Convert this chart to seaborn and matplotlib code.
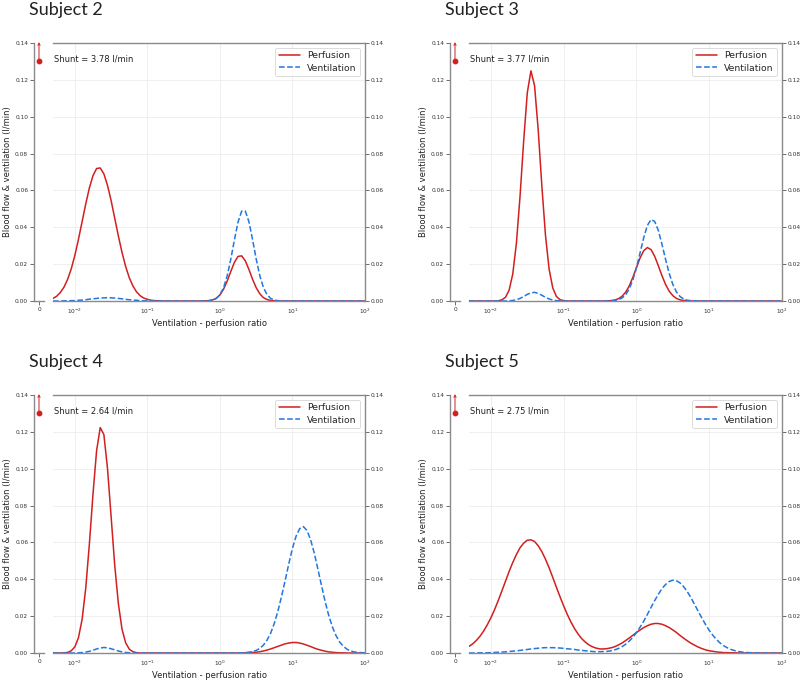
import numpy as np
import pandas as pd
import matplotlib
matplotlib.use("Agg")
import matplotlib.pyplot as plt
import seaborn as sns

sns.set_style("white")
plt.rcParams["font.family"] = ["DejaVu Sans"]

# ===================== DATA =====================
SUBJECTS = ["Subject 2", "Subject 3", "Subject 4", "Subject 5"]
SHUNT    = [3.78, 3.77, 2.64, 2.75]     # l/min, drawn as off-scale marker
SHUNT_MARK_Y = 0.13

# log10 of ventilation-perfusion ratio (sample grid)
LOG_VQ = [-2.30, -2.25, -2.20, -2.15, -2.10, -2.05, -2.00, -1.95, -1.90, -1.85,
          -1.80, -1.75, -1.70, -1.65, -1.60, -1.55, -1.50, -1.45, -1.40, -1.35,
          -1.30, -1.25, -1.20, -1.15, -1.10, -1.05, -1.00, -0.95, -0.90, -0.85,
          -0.80, -0.75, -0.70, -0.65, -0.60, -0.55, -0.50, -0.45, -0.40, -0.35,
          -0.30, -0.25, -0.20, -0.15, -0.10, -0.05,  0.00,  0.05,  0.10,  0.15,
           0.20,  0.25,  0.30,  0.35,  0.40,  0.45,  0.50,  0.55,  0.60,  0.65,
           0.70,  0.75,  0.80,  0.85,  0.90,  0.95,  1.00,  1.05,  1.10,  1.15,
           1.20,  1.25,  1.30,  1.35,  1.40,  1.45,  1.50,  1.55,  1.60,  1.65,
           1.70,  1.75,  1.80,  1.85,  1.90,  1.95,  2.00]

PERF_2 = [.0014, .0026, .0046, .0075, .0117, .0174, .0247, .0335, .0430, .0526,
          .0613, .0680, .0719, .0722, .0690, .0628, .0545, .0449, .0353, .0264,
          .0188, .0127, .0082, .0050, .0029, .0016, .0009, .0004, .0002, .0001,
          0, 0, 0, 0, 0, 0, 0, 0, 0, 0,
          0, 0, .0001, .0002, .0006, .0015, .0033, .0064, .0108, .0160,
          .0210, .0242, .0245, .0218, .0171, .0118, .0072, .0039, .0018, .0008,
          .0003, .0001, 0, 0, 0, 0, 0, 0, 0, 0,
          0, 0, 0, 0, 0, 0, 0, 0, 0, 0,
          0, 0, 0, 0, 0, 0, 0]
VENT_2 = [0, 0, 0, .0001, .0001, .0002, .0002, .0004, .0005, .0007,
          .0010, .0012, .0014, .0016, .0017, .0018, .0017, .0016, .0014, .0012,
          .0009, .0007, .0005, .0004, .0002, .0001, .0001, 0, 0, 0,
          0, 0, 0, 0, 0, 0, 0, 0, 0, 0,
          0, 0, 0, .0002, .0005, .0014, .0033, .0072, .0136, .0227,
          .0332, .0429, .0488, .0488, .0430, .0333, .0228, .0137, .0073, .0034,
          .0014, .0005, .0002, 0, 0, 0, 0, 0, 0, 0,
          0, 0, 0, 0, 0, 0, 0, 0, 0, 0,
          0, 0, 0, 0, 0, 0, 0]

PERF_3 = [0, 0, 0, 0, 0, 0, 0, 0, .0001, .0006,
          .0020, .0058, .0146, .0312, .0566, .0868, .1130, .1249, .1168, .0928,
          .0624, .0356, .0172, .0071, .0025, .0007, .0002, 0, 0, 0,
          0, 0, 0, 0, 0, 0, 0, 0, .0001, .0002,
          .0005, .0012, .0025, .0047, .0081, .0128, .0181, .0234, .0273, .0290,
          .0279, .0243, .0192, .0138, .0090, .0053, .0029, .0014, .0006, .0003,
          .0001, 0, 0, 0, 0, 0, 0, 0, 0, 0,
          0, 0, 0, 0, 0, 0, 0, 0, 0, 0,
          0, 0, 0, 0, 0, 0, 0]
VENT_3 = [0, 0, 0, 0, 0, 0, 0, 0, 0, 0,
          0, .0001, .0003, .0007, .0014, .0024, .0036, .0044, .0047, .0041,
          .0031, .0020, .0011, .0005, .0002, .0001, 0, 0, 0, 0,
          0, 0, 0, 0, 0, 0, 0, 0, 0, .0001,
          .0003, .0007, .0016, .0033, .0065, .0114, .0181, .0262, .0344, .0410,
          .0442, .0432, .0384, .0309, .0226, .0150, .0090, .0049, .0024, .0011,
          .0004, .0002, .0001, 0, 0, 0, 0, 0, 0, 0,
          0, 0, 0, 0, 0, 0, 0, 0, 0, 0,
          0, 0, 0, 0, 0, 0, 0]

PERF_4 = [0, 0, 0, .0001, .0003, .0012, .0033, .0083, .0182, .0351,
          .0589, .0861, .1098, .1223, .1186, .1003, .0741, .0476, .0268, .0130,
          .0056, .0021, .0007, .0002, 0, 0, 0, 0, 0, 0,
          0, 0, 0, 0, 0, 0, 0, 0, 0, 0,
          0, 0, 0, 0, 0, 0, 0, 0, 0, 0,
          0, 0, 0, .0001, .0002, .0003, .0004, .0007, .0011, .0016,
          .0022, .0029, .0036, .0043, .0050, .0054, .0057, .0057, .0054, .0049,
          .0042, .0035, .0027, .0020, .0015, .0010, .0006, .0004, .0002, .0001,
          .0001, 0, 0, 0, 0, 0, 0]
VENT_4 = [0, 0, 0, 0, 0, 0, 0, .0001, .0002, .0005,
          .0009, .0015, .0022, .0027, .0030, .0028, .0023, .0017, .0011, .0006,
          .0003, .0001, 0, 0, 0, 0, 0, 0, 0, 0,
          0, 0, 0, 0, 0, 0, 0, 0, 0, 0,
          0, 0, 0, 0, 0, 0, 0, 0, 0, 0,
          0, 0, .0001, .0002, .0004, .0008, .0014, .0025, .0043, .0070,
          .0108, .0161, .0228, .0308, .0395, .0485, .0568, .0634, .0675, .0686,
          .0665, .0615, .0543, .0456, .0367, .0280, .0204, .0142, .0095, .0060,
          .0037, .0021, .0011, .0006, .0003, .0002, .0001]

PERF_5 = [.0036, .0050, .0068, .0091, .0119, .0153, .0191, .0235, .0284, .0336,
          .0389, .0442, .0491, .0534, .0571, .0596, .0612, .0614, .0605, .0582,
          .0550, .0509, .0462, .0410, .0357, .0305, .0255, .0209, .0168, .0132,
          .0102, .0077, .0058, .0043, .0033, .0026, .0022, .0022, .0024, .0028,
          .0034, .0043, .0054, .0067, .0081, .0096, .0111, .0125, .0138, .0148,
          .0156, .0160, .0160, .0156, .0148, .0138, .0125, .0111, .0095, .0080,
          .0066, .0053, .0042, .0032, .0024, .0017, .0012, .0009, .0006, .0004,
          .0002, .0002, .0001, .0001, 0, 0, 0, 0, 0, 0,
          0, 0, 0, 0, 0, 0, 0]
VENT_5 = [0, 0, 0, .0001, .0001, .0001, .0002, .0003, .0004, .0005,
          .0006, .0008, .0010, .0012, .0014, .0017, .0019, .0022, .0024, .0026,
          .0028, .0029, .0029, .0029, .0028, .0027, .0025, .0023, .0021, .0019,
          .0016, .0014, .0012, .0010, .0008, .0007, .0007, .0008, .0009, .0012,
          .0017, .0024, .0034, .0047, .0064, .0085, .0111, .0140, .0173, .0209,
          .0247, .0284, .0318, .0349, .0372, .0388, .0395, .0392, .0380, .0359,
          .0332, .0299, .0263, .0225, .0189, .0154, .0123, .0096, .0073, .0054,
          .0039, .0028, .0019, .0013, .0008, .0005, .0003, .0002, .0001, .0001,
          0, 0, 0, 0, 0, 0, 0]

PERF = [PERF_2, PERF_3, PERF_4, PERF_5]
VENT = [VENT_2, VENT_3, VENT_4, VENT_5]

Y_TICKS = [0.00, 0.02, 0.04, 0.06, 0.08, 0.10, 0.12, 0.14]

RED  = "#d21f1f"
BLUE = "#2176e0"
GREY = "#8a8a8a"

# ===================== LAYOUT (pixels of 800x680) =====================
W, H = 800, 680
def frac(x0, x1, y_top, y_bot):
    return [x0 / W, 1 - y_bot / H, (x1 - x0) / W, (y_bot - y_top) / H]

PANELS = [  # shunt-axis left, main left, main right, top, bottom, title x, title baseline
    (34, 53, 365, 43, 301, 29, 15),
    (450, 469, 782, 43, 301, 445, 15),
    (34, 53, 365, 395, 653, 29, 367),
    (450, 469, 782, 395, 653, 445, 367),
]

fig = plt.figure(figsize=(8, 6.8), dpi=100)
vq = 10 ** np.array(LOG_VQ)

for i, (sl, ml, mr, top, bot, tx, ty) in enumerate(PANELS):
    # ---------- shunt axis ----------
    sx = fig.add_axes(frac(sl, sl + 10, top, bot))
    sx.set_xlim(-1, 1)
    sx.set_ylim(0, 0.14)
    sx.set_xticks([0])
    sx.set_xticklabels(["0"])
    sx.set_yticks(Y_TICKS)
    sx.set_yticklabels([f"{v:.2f}" for v in Y_TICKS])
    for side in ["top", "right"]:
        sx.spines[side].set_visible(False)
    for side in ["left", "bottom"]:
        sx.spines[side].set_color(GREY)
        sx.spines[side].set_linewidth(1.0)
    sx.tick_params(axis="both", labelsize=4.2, length=3, width=0.5, pad=1.2,
                   left=True, bottom=True, colors="#333333")
    sx.set_ylabel("Blood flow & ventilation (l/min)", fontsize=6, labelpad=2,
                  color="#222222")
    sx.plot([0], [SHUNT_MARK_Y], "o", color=RED, ms=3.2, clip_on=False)
    sx.annotate("", xy=(0, 0.1405), xytext=(0, SHUNT_MARK_Y),
                arrowprops=dict(arrowstyle="->", color=RED, lw=0.7,
                                shrinkA=0, shrinkB=0, mutation_scale=4),
                annotation_clip=False)

    # ---------- main axis ----------
    ax = fig.add_axes(frac(ml, mr, top, bot))
    df = pd.DataFrame({"vq": vq, "Perfusion": PERF[i], "Ventilation": VENT[i]})
    sns.lineplot(data=df, x="vq", y="Perfusion", ax=ax, color=RED, lw=1.1,
                 label="Perfusion")
    sns.lineplot(data=df, x="vq", y="Ventilation", ax=ax, color=BLUE, lw=1.1,
                 linestyle="--", label="Ventilation")
    ax.set_xscale("log")
    ax.set_xlim(0.005, 100)
    ax.set_ylim(0, 0.14)
    ax.set_yticks(Y_TICKS)
    ax.set_yticklabels([f"{v:.2f}" for v in Y_TICKS])
    ax.yaxis.tick_right()
    ax.set_ylabel("")
    ax.spines["left"].set_visible(False)
    for side in ["top", "right", "bottom"]:
        ax.spines[side].set_color(GREY)
        ax.spines[side].set_linewidth(1.0)
    ax.tick_params(axis="both", which="major", labelsize=4.2, length=3,
                   width=0.5, pad=1.2, colors="#333333")
    ax.tick_params(axis="x", which="minor", length=1.8, width=0.4,
                   colors="#333333")
    ax.tick_params(axis="y", which="both", left=False, right=True)
    ax.grid(True, which="major", color="#ececec", lw=0.6)
    ax.set_xlabel("Ventilation - perfusion ratio", fontsize=6, labelpad=2,
                  color="#222222")
    ax.text(0.004, 0.938, f"Shunt = {SHUNT[i]:.2f} l/min", transform=ax.transAxes,
            fontsize=6, va="center", ha="left", color="#222222")
    leg = ax.legend(loc="upper right", fontsize=6.7, frameon=True, fancybox=True,
                    borderaxespad=0.5, handlelength=2.2, borderpad=0.4,
                    labelspacing=0.35, handletextpad=0.8)
    leg.get_frame().set_edgecolor("#cccccc")
    leg.get_frame().set_linewidth(0.6)

    fig.text(tx / W, 1 - ty / H, SUBJECTS[i], fontsize=13, family="Lato",
             va="baseline", ha="left", color="#222222")

fig.savefig("out.png", dpi=100)
